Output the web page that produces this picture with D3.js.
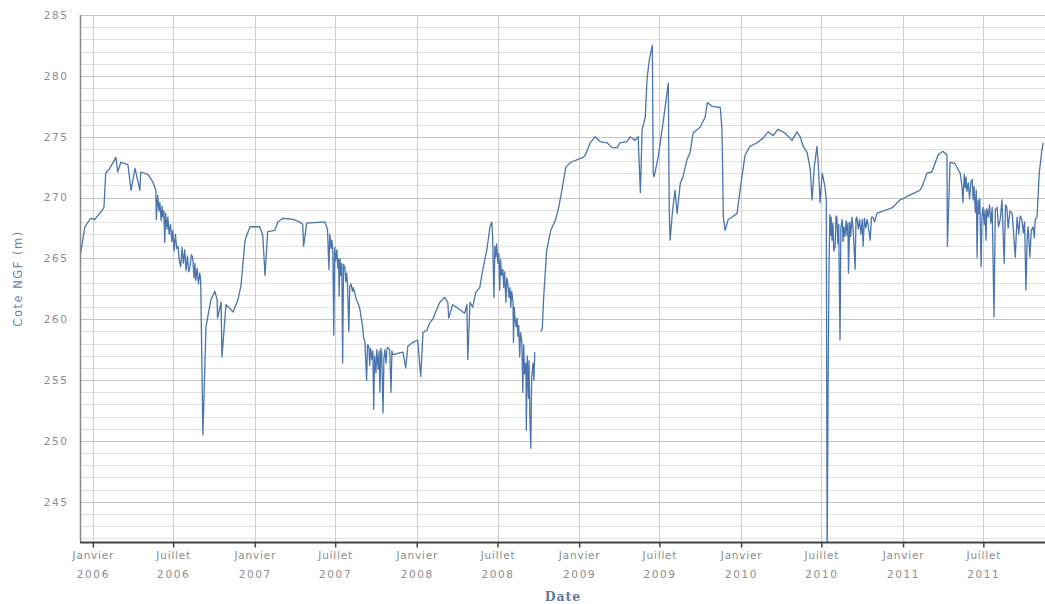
<!DOCTYPE html>
<html>
<head>
<meta charset="utf-8">
<script src="https://cdn.jsdelivr.net/npm/d3@7"></script>
<style>
  body { margin: 0; background: #fff; }
  svg { display: block; }
</style>
</head>
<body>
<svg id="chart" width="1045" height="604"></svg>
<script>
// Piezometric level (Cote NGF, metres) readings, grouped by year
const obs2006 = [
  ["2005-12-03",265.1],["2005-12-14",267.6],["2005-12-27",268.3],["2006-01-05",268.2],
  ["2006-01-19",268.8],["2006-01-26",269.2],["2006-01-30",272.0],["2006-02-08",272.4],
  ["2006-02-22",273.3],["2006-02-26",272.1],["2006-03-05",272.9],["2006-03-21",272.7],
  ["2006-03-28",270.6],["2006-04-06",272.4],["2006-04-17",270.6],["2006-04-19",272.1],
  ["2006-05-05",271.9],["2006-05-16",271.3],["2006-05-23",270.6],["2006-05-24",268.2],
  ["2006-05-27",270.2],["2006-05-30",268.9],["2006-06-01",269.6],["2006-06-04",268.1],
  ["2006-06-06",269.3],["2006-06-08",268.4],["2006-06-10",268.9],["2006-06-12",266.3],
  ["2006-06-14",268.7],["2006-06-17",267.4],["2006-06-19",268.4],["2006-06-22",267.0],
  ["2006-06-25",267.8],["2006-06-28",266.4],["2006-06-30",267.3],["2006-07-03",265.6],
  ["2006-07-06",267.0],["2006-07-09",265.8],["2006-07-12",266.0],["2006-07-15",264.8],
  ["2006-07-18",264.3],["2006-07-21",265.9],["2006-07-24",264.6],["2006-07-27",265.7],
  ["2006-07-30",264.0],["2006-08-02",265.2],["2006-08-05",263.9],["2006-08-08",264.3],
  ["2006-08-11",265.3],["2006-08-14",265.1],["2006-08-17",263.4],["2006-08-19",264.6],
  ["2006-08-21",263.2],["2006-08-24",264.2],["2006-08-27",262.9],["2006-08-30",263.8],
  ["2006-09-01",263.2],["2006-09-06",250.5],["2006-09-13",259.4],["2006-09-24",261.6],
  ["2006-10-03",262.3],["2006-10-08",261.6],["2006-10-09",260.1],["2006-10-17",261.4],
  ["2006-10-19",256.9],["2006-10-28",261.2],["2006-11-13",260.6],["2006-11-24",261.6],
  ["2006-12-01",262.8],["2006-12-10",266.5],["2006-12-21",267.6]
];
const obs2007 = [
  ["2007-01-12",267.6],["2007-01-19",266.9],["2007-01-24",263.6],["2007-01-30",267.2],
  ["2007-02-15",267.3],["2007-02-22",268.0],["2007-03-05",268.3],["2007-03-28",268.2],
  ["2007-04-12",268.0],["2007-04-19",267.8],["2007-04-21",266.0],["2007-04-28",267.9],
  ["2007-06-08",268.0],["2007-06-12",267.6],["2007-06-14",267.3],["2007-06-17",264.1],
  ["2007-06-19",267.0],["2007-06-22",265.8],["2007-06-24",266.5],["2007-06-26",265.5],
  ["2007-06-28",258.7],["2007-06-30",265.9],["2007-07-02",264.8],["2007-07-05",265.7],
  ["2007-07-07",264.2],["2007-07-09",264.9],["2007-07-10",261.9],["2007-07-12",265.0],
  ["2007-07-14",263.6],["2007-07-16",264.6],["2007-07-18",256.4],["2007-07-20",264.5],
  ["2007-07-23",264.3],["2007-07-25",263.1],["2007-07-27",263.8],["2007-07-29",262.8],
  ["2007-08-01",259.0],["2007-08-03",262.7],["2007-08-06",262.9],["2007-08-09",262.3],
  ["2007-08-11",262.6],["2007-08-14",262.2],["2007-08-18",261.6],["2007-08-22",261.3],
  ["2007-08-26",260.8],["2007-08-29",260.1],["2007-09-01",259.4],["2007-09-03",258.5],
  ["2007-09-06",258.2],["2007-09-08",256.6],["2007-09-10",255.0],["2007-09-12",257.9],
  ["2007-09-15",257.8],["2007-09-17",256.2],["2007-09-19",257.6],["2007-09-22",256.7],
  ["2007-09-24",257.4],["2007-09-26",252.6],["2007-09-28",257.0],["2007-10-01",255.6],
  ["2007-10-03",257.5],["2007-10-06",255.9],["2007-10-08",257.4],["2007-10-10",254.0],
  ["2007-10-12",257.6],["2007-10-14",257.3],["2007-10-17",252.3],["2007-10-19",256.8],
  ["2007-10-21",257.5],["2007-10-24",256.4],["2007-10-26",257.6],["2007-10-28",257.7],
  ["2007-11-01",257.5],["2007-11-04",254.0],["2007-11-06",257.4],["2007-11-08",257.1],
  ["2007-11-19",257.2],["2007-12-01",257.3],["2007-12-07",256.0],["2007-12-12",257.8],
  ["2007-12-23",258.1]
];
const obs2008 = [
  ["2008-01-03",258.3],["2008-01-10",255.3],["2008-01-15",258.9],["2008-01-24",259.1],
  ["2008-01-30",259.7],["2008-02-06",260.0],["2008-02-22",261.4],["2008-03-04",261.8],
  ["2008-03-11",261.4],["2008-03-13",260.1],["2008-03-22",261.2],["2008-04-07",260.8],
  ["2008-04-18",260.5],["2008-04-23",261.2],["2008-04-25",256.7],["2008-04-30",261.4],
  ["2008-05-06",261.0],["2008-05-13",262.2],["2008-05-22",262.6],["2008-05-29",264.1],
  ["2008-06-07",265.7],["2008-06-14",267.6],["2008-06-18",268.0],["2008-06-20",266.8],
  ["2008-06-23",261.8],["2008-06-25",266.0],["2008-06-27",265.1],["2008-06-29",266.2],
  ["2008-07-02",264.6],["2008-07-04",265.4],["2008-07-06",262.4],["2008-07-08",264.9],
  ["2008-07-10",263.6],["2008-07-13",264.1],["2008-07-15",262.6],["2008-07-17",263.9],
  ["2008-07-20",261.4],["2008-07-22",263.4],["2008-07-24",263.0],["2008-07-27",261.8],
  ["2008-07-29",262.6],["2008-07-31",261.0],["2008-08-02",262.3],["2008-08-05",261.4],
  ["2008-08-06",258.1],["2008-08-08",261.0],["2008-08-09",260.2],["2008-08-12",259.4],
  ["2008-08-14",260.1],["2008-08-16",258.6],["2008-08-18",259.5],["2008-08-20",256.9],
  ["2008-08-22",258.9],["2008-08-25",258.1],["2008-08-27",254.0],["2008-08-29",257.9],
  ["2008-08-31",255.5],["2008-09-03",256.4],["2008-09-04",250.9],["2008-09-06",257.0],
  ["2008-09-07",255.9],["2008-09-09",253.5],["2008-09-10",256.6],["2008-09-12",252.0],
  ["2008-09-14",249.4],["2008-09-16",255.2],["2008-09-19",256.4],["2008-09-21",255.0],
  ["2008-09-23",257.3],
  ["2008-09-30",null],
  ["2008-10-06",259.0],["2008-10-10",259.2],["2008-10-13",261.8],["2008-10-20",265.7],
  ["2008-10-29",267.3],["2008-11-09",268.2],["2008-11-16",269.2],["2008-11-23",270.6],
  ["2008-12-02",272.5],["2008-12-13",272.9]
];
const obs2009 = [
  ["2009-01-10",273.3],["2009-01-15",273.5],["2009-01-26",274.5],["2009-02-06",275.0],
  ["2009-02-17",274.6],["2009-03-05",274.5],["2009-03-16",274.1],["2009-03-28",274.1],
  ["2009-04-03",274.5],["2009-04-19",274.6],["2009-04-26",275.0],["2009-05-07",274.7],
  ["2009-05-14",275.0],["2009-05-19",270.4],["2009-05-23",275.6],["2009-05-30",276.6],
  ["2009-06-03",279.7],["2009-06-08",281.3],["2009-06-15",282.5],["2009-06-17",272.0],
  ["2009-06-19",271.7],["2009-06-28",273.3],["2009-07-09",276.1],["2009-07-18",278.6],
  ["2009-07-21",279.4],["2009-07-23",269.0],["2009-07-25",266.5],["2009-07-30",268.7],
  ["2009-08-05",270.6],["2009-08-10",268.7],["2009-08-17",271.2],["2009-08-23",271.7],
  ["2009-09-01",273.1],["2009-09-08",273.7],["2009-09-15",275.3],["2009-10-01",275.8],
  ["2009-10-12",276.6],["2009-10-17",277.8],["2009-10-28",277.5],["2009-11-15",277.4],
  ["2009-11-19",275.6],["2009-11-22",268.4],["2009-11-26",267.3],["2009-12-03",268.2],
  ["2009-12-12",268.4],["2009-12-23",268.7],["2009-12-30",270.7]
];
const obs2010 = [
  ["2010-01-10",273.5],["2010-01-21",274.2],["2010-02-06",274.5],["2010-02-20",274.9],
  ["2010-03-03",275.4],["2010-03-14",275.1],["2010-03-25",275.6],["2010-04-10",275.3],
  ["2010-04-26",274.7],["2010-05-07",275.4],["2010-05-14",275.0],["2010-05-21",274.2],
  ["2010-05-30",273.7],["2010-06-06",272.3],["2010-06-10",269.8],["2010-06-15",272.5],
  ["2010-06-21",274.2],["2010-06-24",272.8],["2010-06-28",269.6],["2010-07-03",272.0],
  ["2010-07-09",270.9],["2010-07-12",269.8],["2010-07-14",240.0],["2010-07-16",254.0],
  ["2010-07-18",263.5],["2010-07-20",268.6],["2010-07-22",266.9],["2010-07-23",268.4],
  ["2010-07-25",266.5],["2010-07-27",267.9],["2010-07-29",265.6],["2010-08-01",266.0],
  ["2010-08-03",268.5],["2010-08-05",268.4],["2010-08-07",266.2],["2010-08-09",267.8],
  ["2010-08-12",258.3],["2010-08-14",267.5],["2010-08-17",268.2],["2010-08-19",266.4],
  ["2010-08-21",267.6],["2010-08-23",266.8],["2010-08-26",268.1],["2010-08-28",266.9],
  ["2010-08-30",267.9],["2010-08-31",263.8],["2010-09-03",268.0],["2010-09-05",266.8],
  ["2010-09-08",268.4],["2010-09-11",267.2],["2010-09-15",264.1],["2010-09-17",268.3],
  ["2010-09-19",268.4],["2010-09-22",267.4],["2010-09-25",268.2],["2010-09-28",267.0],
  ["2010-10-01",268.2],["2010-10-03",266.0],["2010-10-06",268.3],["2010-10-09",267.5],
  ["2010-10-12",268.2],["2010-10-15",267.6],["2010-10-19",266.5],["2010-10-22",268.4],
  ["2010-10-25",268.4],["2010-10-29",268.0],["2010-11-03",268.7],["2010-11-10",268.8],
  ["2010-11-26",269.0],["2010-12-09",269.2],["2010-12-25",269.8]
];
const obs2011 = [
  ["2011-01-06",270.0],["2011-01-10",270.1],["2011-01-28",270.4],["2011-02-08",270.6],
  ["2011-02-13",270.9],["2011-02-24",272.0],["2011-03-07",272.1],["2011-03-14",272.8],
  ["2011-03-21",273.5],["2011-04-01",273.8],["2011-04-10",273.5],["2011-04-11",266.0],
  ["2011-04-17",272.9],["2011-04-28",272.8],["2011-05-10",272.0],["2011-05-12",271.4],
  ["2011-05-14",270.9],["2011-05-16",269.6],["2011-05-19",271.9],["2011-05-21",270.8],
  ["2011-05-23",271.7],["2011-05-25",270.5],["2011-05-28",271.2],["2011-05-31",269.9],
  ["2011-06-03",271.3],["2011-06-06",271.5],["2011-06-08",269.8],["2011-06-10",270.9],
  ["2011-06-13",268.8],["2011-06-15",270.6],["2011-06-17",265.1],["2011-06-19",269.8],
  ["2011-06-21",268.7],["2011-06-23",269.9],["2011-06-26",264.3],["2011-06-28",268.5],
  ["2011-06-30",269.2],["2011-07-03",267.8],["2011-07-05",269.0],["2011-07-07",266.5],
  ["2011-07-09",269.1],["2011-07-12",268.4],["2011-07-15",269.4],["2011-07-18",267.9],
  ["2011-07-21",269.2],["2011-07-25",260.2],["2011-07-28",269.0],["2011-08-01",269.2],
  ["2011-08-04",267.6],["2011-08-08",268.2],["2011-08-12",269.8],["2011-08-17",264.6],
  ["2011-08-20",269.4],["2011-08-23",269.2],["2011-08-26",267.5],["2011-08-30",268.9],
  ["2011-09-04",268.7],["2011-09-07",267.2],["2011-09-11",265.1],["2011-09-15",268.4],
  ["2011-09-19",267.0],["2011-09-22",268.5],["2011-09-26",268.2],["2011-09-29",267.1],
  ["2011-10-02",268.0],["2011-10-05",262.4],["2011-10-08",266.9],["2011-10-10",267.6],
  ["2011-10-14",265.1],["2011-10-17",267.3],["2011-10-21",267.6],["2011-10-24",266.7],
  ["2011-10-26",268.2],["2011-10-30",268.4],["2011-11-04",272.0],["2011-11-10",273.9],
  ["2011-11-13",274.5]
];

// Axis content
const dateExtent = ["2005-12-03", "2011-11-17"];
const levelExtent = [241.7, 285];
const levelTicks = [245, 250, 255, 260, 265, 270, 275, 280, 285];
const tickDates = ["2006-01-01","2006-07-01","2007-01-01","2007-07-01","2008-01-01","2008-07-01",
                   "2009-01-01","2009-07-01","2010-01-01","2010-07-01","2011-01-01","2011-07-01"];
const monthNames = { 0: "Janvier", 6: "Juillet" };
const yLabel = "Cote NGF (m)";
const xLabel = "Date";

const parse = d3.timeParse("%Y-%m-%d");
const series = [].concat(obs2006, obs2007, obs2008, obs2009, obs2010, obs2011)
  .map(([d, v]) => ({ date: parse(d), level: v }));

const svg = d3.select("#chart");
const W = 1045, H = 604;
const margin = { left: 80, top: 15, right: 0, bottom: 62 };
const plotW = W - margin.left - margin.right;
const plotH = H - margin.top - margin.bottom;

const x = d3.scaleTime().domain(dateExtent.map(parse)).range([margin.left, margin.left + plotW]);
const y = d3.scaleLinear().domain(levelExtent).range([margin.top + plotH, margin.top]);

svg.append("defs").append("clipPath").attr("id", "plot-clip")
  .append("rect").attr("x", margin.left).attr("y", margin.top)
  .attr("width", plotW).attr("height", plotH);

// Horizontal grid: every metre, heavier every 5 m
const grid = svg.append("g");
grid.selectAll("line.minor")
  .data(d3.range(242, 286).filter(v => v % 5 !== 0))
  .join("line").attr("class", "minor")
  .attr("x1", margin.left).attr("x2", W)
  .attr("y1", d => Math.round(y(d)) + 0.5).attr("y2", d => Math.round(y(d)) + 0.5)
  .attr("stroke", "#e2e2e2").attr("stroke-width", 1);
grid.selectAll("line.major")
  .data(levelTicks)
  .join("line").attr("class", "major")
  .attr("x1", margin.left).attr("x2", W)
  .attr("y1", d => Math.round(y(d)) + 0.5).attr("y2", d => Math.round(y(d)) + 0.5)
  .attr("stroke", "#c4c4c4").attr("stroke-width", 1);

// Vertical grid at each half-year tick
grid.selectAll("line.vert")
  .data(tickDates.map(parse))
  .join("line").attr("class", "vert")
  .attr("x1", d => Math.round(x(d)) + 0.5).attr("x2", d => Math.round(x(d)) + 0.5)
  .attr("y1", margin.top).attr("y2", margin.top + plotH)
  .attr("stroke", "#cfcfcf").attr("stroke-width", 1);

// Level curve
const line = d3.line()
  .defined(d => d.level !== null)
  .x(d => x(d.date))
  .y(d => y(d.level));

svg.append("path")
  .datum(series)
  .attr("clip-path", "url(#plot-clip)")
  .attr("fill", "none")
  .attr("stroke", "#4a75ad")
  .attr("stroke-width", 1.3)
  .attr("stroke-linejoin", "round")
  .attr("d", line);

// Y axis
const yAxis = svg.append("g")
  .attr("transform", `translate(${margin.left + 0.5},0)`)
  .call(d3.axisLeft(y).tickValues(levelTicks).tickSize(0).tickPadding(12).tickFormat(d3.format("d")));
yAxis.select(".domain").attr("stroke", "#8a8a8a").attr("stroke-width", 1.5)
  .attr("d", `M0,${margin.top}V${margin.top + plotH}`);
yAxis.selectAll("text")
  .attr("fill", "#8c8c8c")
  .attr("font-family", "DejaVu Sans, sans-serif")
  .attr("font-size", 10.5)
  .attr("letter-spacing", "1.6px");

// X axis
const xAxis = svg.append("g")
  .attr("transform", `translate(0,${margin.top + plotH + 0.5})`)
  .call(d3.axisBottom(x).tickValues(tickDates.map(parse)).tickSize(5).tickFormat(""));
xAxis.select(".domain").attr("stroke", "#444").attr("stroke-width", 1.8)
  .attr("d", `M${margin.left},0H${W}`);
xAxis.selectAll(".tick line").attr("stroke", "#444").attr("stroke-width", 1.5);

const tickText = xAxis.selectAll(".tick").append("text")
  .attr("fill", "#8c8c8c")
  .attr("font-family", "DejaVu Sans, sans-serif")
  .attr("font-size", 10.5)
  .attr("letter-spacing", "0.8px")
  .attr("text-anchor", "middle");
tickText.append("tspan").attr("x", 0).attr("y", 16)
  .text(d => monthNames[d.getMonth()]);
tickText.append("tspan").attr("x", 0).attr("y", 35)
  .attr("letter-spacing", "1.6px")
  .text(d => d.getFullYear());

// Axis titles
svg.append("text")
  .attr("transform", `translate(22,${margin.top + plotH / 2}) rotate(-90)`)
  .attr("text-anchor", "middle")
  .attr("fill", "#6f86a8")
  .attr("font-family", "DejaVu Sans, sans-serif")
  .attr("font-size", 11.5)
  .attr("letter-spacing", "1.5px")
  .text(yLabel);

svg.append("text")
  .attr("x", 563).attr("y", 601)
  .attr("text-anchor", "middle")
  .attr("fill", "#5d7aa6")
  .attr("font-family", "DejaVu Serif, serif")
  .attr("font-weight", "bold")
  .attr("font-size", 12.5)
  .attr("letter-spacing", "1px")
  .text(xLabel);
</script>
</body>
</html>
